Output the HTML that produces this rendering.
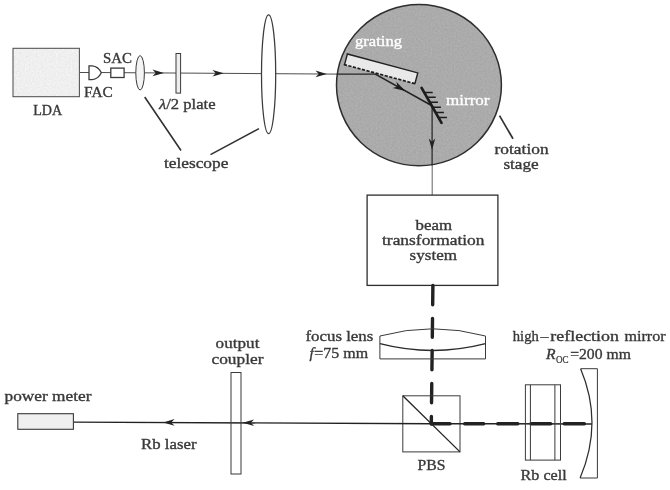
<!DOCTYPE html>
<html><head><meta charset="utf-8">
<style>
html,body{margin:0;padding:0;background:#fff;}
body{width:670px;height:490px;overflow:hidden;}
svg{display:block;}
text{font-family:"Liberation Serif",serif;fill:#383838;stroke:#383838;stroke-width:0.35px;}
</style></head><body>
<svg width="670" height="490" viewBox="0 0 670 490">
<defs>
<filter id="soft" x="-5%" y="-5%" width="110%" height="110%"><feGaussianBlur stdDeviation="0.45"/></filter>
<path id="ah" d="M0.8,0 L-10.5,-3.3 L-7.3,0 L-10.5,3.3 Z"/>
<filter id="grain" x="0" y="0" width="100%" height="100%" color-interpolation-filters="sRGB">
<feTurbulence type="fractalNoise" baseFrequency="0.55" numOctaves="2" seed="7" result="n"/>
<feColorMatrix in="n" type="matrix" values="0.5 0.5 0 0 0  0.5 0.5 0 0 0  0.5 0.5 0 0 0  0 0 0 0 1" result="g"/>
<feComposite in="SourceGraphic" in2="g" operator="arithmetic" k1="0" k2="1" k3="0.12" k4="-0.06" result="c"/>
<feComposite in="c" in2="SourceGraphic" operator="in"/>
</filter>
</defs>
<rect width="670" height="490" fill="#fff"/>
<g filter="url(#soft)" fill="none" stroke="#3a3a3a" stroke-width="1">
<!-- LDA -->
<rect x="13" y="48.3" width="66.4" height="48.4" fill="#efefef" stroke="none" filter="url(#grain)"/>
<rect x="13" y="48.3" width="66.4" height="48.4" fill="none" stroke="#505050" stroke-width="1.05"/>
<!-- top beam -->
<path d="M80,72.5L89,72.5 M101,72.5L111,72.6 M124,72.7L336.5,74.1" stroke-width="0.9"/>
<path d="M89,65.9 V79.7 H92.2 C96.5,79.3 99.5,76.5 101.3,72.8 C99.5,69 96.5,66.3 92.2,65.9 Z" fill="#fff" stroke-width="1.3"/>
<rect x="110.8" y="68.1" width="13.3" height="9.4" fill="#fff" stroke-width="1.3"/>
<ellipse cx="140.1" cy="72.8" rx="4.3" ry="17.2" fill="#f4f4f4"/>
<rect x="176" y="53.5" width="4.6" height="39.6" fill="#eee"/>
<ellipse cx="268.6" cy="74.2" rx="7.1" ry="59.4" fill="#fff" stroke-width="1.25"/>
<g fill="#222" stroke="none">
<use href="#ah" x="163" y="72.9"/><use href="#ah" x="223" y="73.3"/><use href="#ah" x="326" y="73.9"/>
</g>
<!-- telescope pointers -->
<path d="M144.7,97 L181,150.5 M210.5,154.6 L259,128.6" stroke-width="1.6" stroke="#333"/>
<!-- rotation stage -->
<ellipse cx="418.95" cy="85.2" rx="82.45" ry="80.6" fill="#ababab" stroke="none" filter="url(#grain)"/>
<ellipse cx="418.95" cy="85.2" rx="82.45" ry="80.6" fill="none" stroke="#2e2e2e" stroke-width="1.5"/>
<path d="M336.5,74.1L375.8,74.2" stroke-width="1.3" stroke="#222"/>
<g transform="translate(346.9,53.1) rotate(15.1)">
<rect x="0.7" y="0.7" width="72.9" height="11.3" fill="#e9e9e9" stroke="none"/>
<path d="M0.7,12.2 V0.7 H73.6 V12.2" fill="none" stroke="#222" stroke-width="1.4"/>
<path d="M0,11.8 H74.3" stroke="#1c1c1c" stroke-width="1.7" stroke-dasharray="3.2 1.5"/>
</g>
<path d="M375.3,74.1 L432,105.8" stroke="#222" stroke-width="1.6"/><path d="M432.1,105.8 V165.8" stroke="#222" stroke-width="1.2"/><path d="M432.2,165.8 V195" stroke="#444" stroke-width="0.85"/>
<use href="#ah" transform="translate(404.6,90.5) rotate(29.2) scale(1.1)" fill="#1c1c1c" stroke="none"/>
<use href="#ah" transform="translate(432,149) rotate(90)" fill="#222" stroke="none"/>
<path d="M421.6,87.8 L441.5,122.8" stroke="#1c1c1c" stroke-width="2.7" stroke-linecap="round"/>
<path d="M424.5,92.5H432.7 M427,97.3H435.7 M430,102.2H437.9 M432.5,107.3H440.9 M435.5,112.5H443.9 M438.5,117.6H446.9" stroke="#1c1c1c" stroke-width="1.5"/>
<path d="M499.5,115.6 L513,138.8" stroke-width="1.7" stroke="#333"/>
<!-- box -->
<rect x="367.1" y="195.1" width="130.8" height="90.3" fill="#fff" stroke="#2e2e2e" stroke-width="1.3"/>
<!-- thick dashed vertical -->
<path d="M432.90,285.5L432.68,304.7 M432.52,318.4L432.30,337.2 M432.15,350.5L431.93,369.8 M431.77,383.5L431.55,402.8 M431.39,416.5L431.30,424.0" stroke="#222" stroke-width="3.4" stroke-linecap="round"/>
<!-- focus lens -->
<path d="M379.9,336 V358.9 H485.5 V336 M379.9,336 Q432.7,321.6 485.5,336" stroke-width="1"/><path d="M379.9,343.7 Q432.7,357.3 485.5,343.7" stroke-width="1.3" stroke="#2a2a2a"/>
<!-- PBS -->
<rect x="402.8" y="395.8" width="57.2" height="56.1" stroke-width="1"/>
<path d="M402.8,395.8 L460,451.9" stroke-width="1.3" stroke="#222"/>
<!-- bottom beam -->
<path d="M74,422.1 L432,423.7 L592,423.9" stroke-width="1.45" stroke="#222"/>
<path d="M431.4,423.8H450.0 M464.7,423.8H483.7 M497.7,423.8H517.8 M531.1,423.8H550.7 M564.2,423.8H584.4" stroke="#222" stroke-width="3.4" stroke-linecap="round"/>
<use href="#ah" transform="translate(164,422.4) rotate(180)" fill="#222" stroke="none"/>
<use href="#ah" transform="translate(243.6,422.7) rotate(180)" fill="#222" stroke="none"/>
<!-- output coupler -->
<rect x="231" y="372.5" width="10" height="101.5" stroke-width="1"/>
<!-- power meter -->
<rect x="17.8" y="413.7" width="55.6" height="15.6" fill="#f0f0f0" stroke-width="1.1"/>
<!-- Rb cell -->
<rect x="525.4" y="384.8" width="35.1" height="75.3" stroke-width="1"/>
<path d="M530.4,384.8V460.1 M554.9,384.8V460.1" stroke-width="1"/>
<!-- HR mirror -->
<path d="M580.6,368.7 H597.4 V478 H580.1" stroke-width="1"/><path d="M580.1,478 Q603.6,423 580.6,368.7" stroke-width="1.25" stroke="#2e2e2e"/>
</g>
<g filter="url(#soft)" font-size="15.3">
<text x="33.2" y="115.4" textLength="29" lengthAdjust="spacingAndGlyphs">LDA</text>
<text x="84" y="96.7" textLength="28.8" lengthAdjust="spacingAndGlyphs">FAC</text>
<text x="103" y="62.6" textLength="29" lengthAdjust="spacingAndGlyphs">SAC</text>
<text x="159" y="108.5" textLength="56.6" lengthAdjust="spacingAndGlyphs"><tspan font-style="italic">λ</tspan>/2 plate</text>
<text x="163.9" y="167.8" textLength="64.5" lengthAdjust="spacingAndGlyphs">telescope</text>
<text x="355" y="46.3" textLength="47" lengthAdjust="spacingAndGlyphs" style="fill:#fff;stroke:#fff">grating</text>
<text x="446" y="105" textLength="43.5" lengthAdjust="spacingAndGlyphs" style="fill:#fff;stroke:#fff">mirror</text>
<text x="494.6" y="154.4" textLength="54" lengthAdjust="spacingAndGlyphs">rotation</text>
<text x="503.4" y="169" textLength="35.3" lengthAdjust="spacingAndGlyphs">stage</text>
<text x="415.5" y="229.5" textLength="36.5" lengthAdjust="spacingAndGlyphs">beam</text>
<text x="382" y="245.3" textLength="102.5" lengthAdjust="spacingAndGlyphs">transformation</text>
<text x="409.6" y="260.4" textLength="47.4" lengthAdjust="spacingAndGlyphs">system</text>
<text x="305.4" y="341.2" textLength="68" lengthAdjust="spacingAndGlyphs">focus lens</text>
<text x="309.6" y="357.6" font-style="italic">f</text>
<text x="314.3" y="357.6" textLength="53.8" lengthAdjust="spacingAndGlyphs">=75 mm</text>
<text x="512.8" y="341" textLength="26" lengthAdjust="spacingAndGlyphs">high</text>
<text x="540.6" y="341" textLength="8" lengthAdjust="spacingAndGlyphs">–</text>
<text x="550.3" y="341" textLength="68.7" lengthAdjust="spacingAndGlyphs">reflection</text>
<text x="624.6" y="341" textLength="41" lengthAdjust="spacingAndGlyphs">mirror</text>
<text x="546" y="358.6" font-style="italic" textLength="9.6" lengthAdjust="spacingAndGlyphs">R</text>
<text x="556" y="362.6" font-size="9.5" textLength="12.6" lengthAdjust="spacingAndGlyphs" style="stroke-width:0.2px">OC</text>
<text x="570.2" y="358.6" textLength="60.7" lengthAdjust="spacingAndGlyphs">=200 mm</text>
<text x="4.6" y="401.3" textLength="86.8" lengthAdjust="spacingAndGlyphs">power meter</text>
<text x="215.6" y="347.5" textLength="43.8" lengthAdjust="spacingAndGlyphs">output</text>
<text x="211.5" y="363.5" textLength="52" lengthAdjust="spacingAndGlyphs">coupler</text>
<text x="141" y="448.6" textLength="55.5" lengthAdjust="spacingAndGlyphs">Rb laser</text>
<text x="417.6" y="469.7" textLength="28" lengthAdjust="spacingAndGlyphs">PBS</text>
<text x="520.5" y="479.7" textLength="46.2" lengthAdjust="spacingAndGlyphs">Rb cell</text>
</g>
</svg>
</body></html>
